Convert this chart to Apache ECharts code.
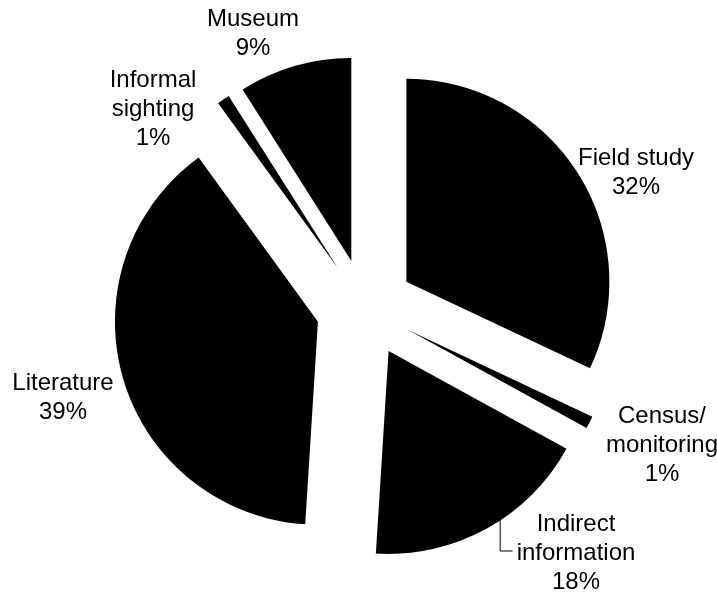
<!DOCTYPE html>
<html>
<head>
<meta charset="utf-8">
<script src="https://cdn.jsdelivr.net/npm/echarts@6/dist/echarts.min.js"></script>
<style>
  html, body { margin: 0; padding: 0; background: #fff; }
  #chart { width: 717px; height: 598px; }
</style>
</head>
<body>
<div id="chart"></div>
<script>
// Sources of records, share in percent (clockwise from 12 o'clock)
const categories = [
  'Field study',
  'Census/\nmonitoring',
  'Indirect\ninformation',
  'Literature',
  'Informal\nsighting',
  'Museum'
];
const shares = [32, 1, 18, 39, 1, 9];

// Label anchor points (centre of each text block), in the same order
const labelSpots = [
  [636, 173],
  [662, 445],
  [576, 553],
  [63, 398],
  [153, 109],
  [253, 34]
];
// Only the indirect-information label uses a leader line
const leaderIndex = 2;

const FONT_SIZE = 24;
const LINE_HEIGHT = 29;
const FONT_FAMILY = '"Liberation Sans", Arial, sans-serif';
const EXPLODE = 49;

const chart = echarts.init(document.getElementById('chart'), null, { renderer: 'canvas' });

const pieData = categories.map((name, i) => ({
  name: name,
  value: shares[i],
  selected: true
}));

chart.setOption({
  animation: false,
  backgroundColor: '#ffffff',
  series: [{
    type: 'pie',
    center: [365, 308],
    radius: [0, 203],
    startAngle: 90,
    clockwise: true,
    selectedMode: 'multiple',
    selectedOffset: EXPLODE,
    avoidLabelOverlap: false,
    silent: true,
    itemStyle: { color: '#000000', borderWidth: 0 },
    select: { itemStyle: { color: '#000000', borderWidth: 0 } },
    emphasis: { disabled: true },
    label: { show: false },
    labelLine: { show: false },
    data: pieData
  }]
});

// Text labels: name and percentage, centred on their anchor points
const labelGraphics = categories.map((name, i) => ({
  type: 'text',
  silent: true,
  z: 10,
  style: {
    text: name + '\n' + shares[i] + '%',
    x: labelSpots[i][0],
    y: labelSpots[i][1],
    align: 'center',
    verticalAlign: 'middle',
    fontSize: FONT_SIZE,
    fontFamily: FONT_FAMILY,
    lineHeight: LINE_HEIGHT,
    fill: '#000000'
  }
}));

// Leader line from the indirect-information slice edge to its label
function leaderLine() {
  const data = chart.getModel().getSeriesByIndex(0).getData();
  const lay = data.getItemLayout(leaderIndex);
  const mid = (lay.startAngle + lay.endAngle) / 2;
  const ox = Math.cos(mid) * EXPLODE;
  const oy = Math.sin(mid) * EXPLODE;
  const a = lay.startAngle + 0.43 * (lay.endAngle - lay.startAngle);
  const px = lay.cx + ox + lay.r * Math.cos(a);
  const py = lay.cy + oy + lay.r * Math.sin(a);

  const ctx = document.createElement('canvas').getContext('2d');
  ctx.font = FONT_SIZE + 'px ' + FONT_FAMILY;
  const lines = categories[leaderIndex].split('\n');
  const spot = labelSpots[leaderIndex];
  const lineW = ctx.measureText(lines[1]).width;
  const ly = spot[1] - 2;
  const lx = spot[0] - lineW / 2 - 4;
  return {
    type: 'polyline',
    silent: true,
    z: 9,
    shape: { points: [[px, py - 2], [px, ly], [lx, ly]] },
    style: { stroke: '#000000', lineWidth: 1, fill: null }
  };
}

chart.setOption({ graphic: labelGraphics.concat([leaderLine()]) });
</script>
</body>
</html>
